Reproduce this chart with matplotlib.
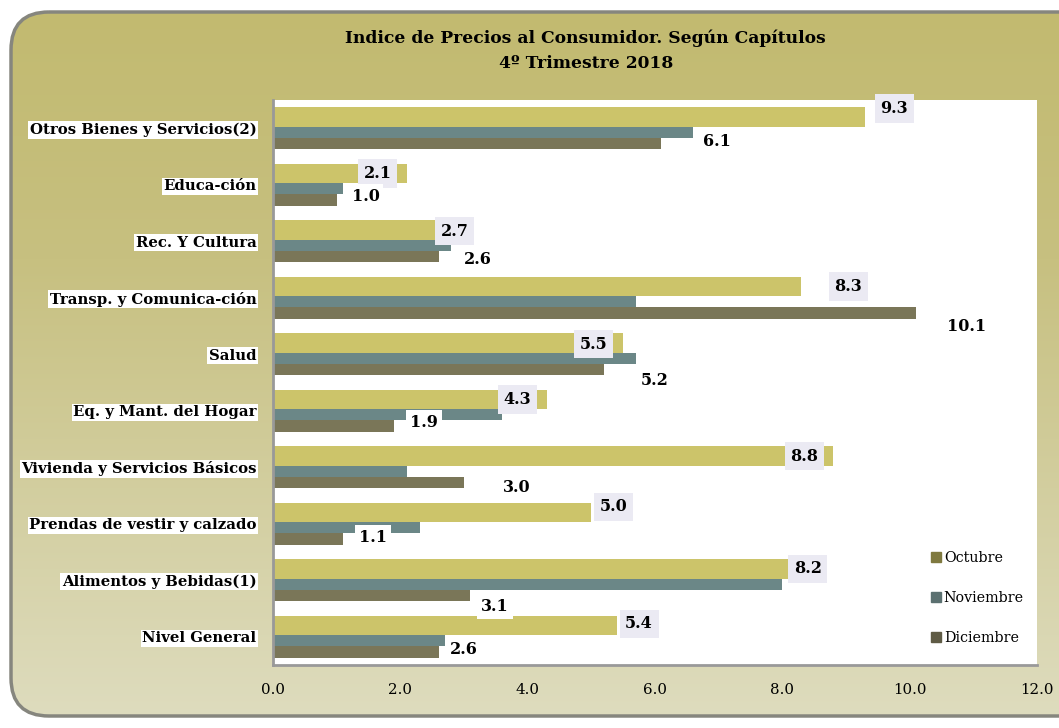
import numpy as np
import matplotlib.pyplot as plt
from matplotlib.patches import FancyBboxPatch
from matplotlib.colors import LinearSegmentedColormap

categorias = ["Otros Bienes y Servicios(2)", "Educa-ción", "Rec. Y Cultura",
              "Transp. y Comunica-ción", "Salud", "Eq. y Mant. del Hogar",
              "Vivienda y Servicios Básicos", "Prendas de vestir y calzado",
              "Alimentos y Bebidas(1)", "Nivel General"]
octubre = [9.3, 2.1, 2.7, 8.3, 5.5, 4.3, 8.8, 5.0, 8.2, 5.4]
noviembre = [6.6, 1.1, 2.8, 5.7, 5.7, 3.6, 2.1, 2.3, 8.0, 2.7]
diciembre = [6.1, 1.0, 2.6, 10.1, 5.2, 1.9, 3.0, 1.1, 3.1, 2.6]
series = ["Octubre", "Noviembre", "Diciembre"]
xticks = [0, 2, 4, 6, 8, 10, 12]

# desplazamiento de las etiquetas (a mano, como en el original)
oct_dx = [0.46, -0.46, 0.15, 0.74, -0.47, -0.46, -0.45, 0.35, 0.2, 0.35]
oct_dy = [-0.35, -0.2, -0.18, -0.2, -0.18, -0.2, -0.2, -0.3, -0.2, -0.23]
dic_dx = [0.87, 0.45, 0.62, 0.8, 0.8, 0.47, 0.82, 0.47, 0.39, 0.4]
dic_dy = [0.23, 0.21, 0.32, 0.5, 0.46, 0.2, 0.35, 0.25, 0.46, 0.23]

c_oct = "#ccc46a"
c_nov = "#6b8787"
c_dic = "#7a7658"
c_leg = ["#7f793f", "#5b7070", "#5f5b45"]

plt.rcParams['font.family'] = ['DejaVu Serif']

fig = plt.figure(figsize=(10.59, 7.28), dpi=100)
fig.patch.set_facecolor("white")

# fondo redondeado con degradado
bg = fig.add_axes([0, 0, 1, 1], zorder=0)
bg.set_xlim(0, 1059)
bg.set_ylim(728, 0)
bg.axis("off")
cmap = LinearSegmentedColormap.from_list(
    "fondo", [(0, "#c2ba70"), (0.35, "#c7c080"), (1, "#dedcbe")])
grad = np.linspace(0, 1, 256).reshape(-1, 1)
box = FancyBboxPatch((11, 12), 1100, 704, boxstyle="round,pad=0,rounding_size=38",
                     facecolor="none", edgecolor="#86867e", linewidth=2.5)
im = bg.imshow(grad, cmap=cmap, extent=[0, 1200, 718, 12], aspect="auto")
bg.add_patch(box)
im.set_clip_path(box)

ax = fig.add_axes([0.258, 0.0865, 0.721, 0.776], zorder=1)
ax.set_facecolor("white")
y = np.arange(len(categorias))
ax.barh(y - 0.2, octubre, height=0.34, color=c_oct, label=series[0])
ax.barh(y + 0.07, noviembre, height=0.19, color=c_nov, label=series[1])
ax.barh(y + 0.27, diciembre, height=0.2, color=c_dic, label=series[2])

for i in range(len(categorias)):
    ax.text(octubre[i] + oct_dx[i], i + oct_dy[i], f"{octubre[i]:.1f}",
            ha="center", va="center", fontsize=11.5, fontweight="bold",
            bbox=dict(boxstyle="square,pad=0.35", fc="#ebeaf3", ec="none"))
    ax.text(diciembre[i] + dic_dx[i], i + dic_dy[i], f"{diciembre[i]:.1f}",
            ha="center", va="center", fontsize=11.5, fontweight="bold",
            bbox=dict(boxstyle="square,pad=0.25", fc="white", ec="none"))

ax.set_xlim(0, 12)
ax.set_ylim(len(categorias) - 0.5, -0.5)
ax.set_xticks(xticks)
ax.set_xticklabels([f"{v:.1f}" for v in xticks], fontsize=10.8)
ax.set_yticks(y)
ax.set_yticklabels(categorias, fontsize=10.7, fontweight="bold")
for lab in ax.get_yticklabels():
    lab.set_bbox(dict(boxstyle="square,pad=0.1", fc="white", ec="none"))
ax.tick_params(axis="x", length=0, pad=13)
ax.tick_params(axis="y", length=0, pad=12)
for s in ["top", "right"]:
    ax.spines[s].set_visible(False)
for s in ["left", "bottom"]:
    ax.spines[s].set_color("#999999")
    ax.spines[s].set_linewidth(2)

leg = ax.legend(loc="lower right", bbox_to_anchor=(1.0, 0.013), frameon=False,
                fontsize=10.3, handlelength=0.7, handleheight=0.7,
                handletextpad=0.2, labelspacing=1.8)
for h, c in zip(leg.legend_handles, c_leg):
    h.set_color(c)

fig.text(0.553, 0.948, "Indice de Precios al Consumidor. Según Capítulos",
         ha="center", va="center", fontsize=12.3, fontweight="bold")
fig.text(0.553, 0.913, "4º Trimestre 2018",
         ha="center", va="center", fontsize=12.3, fontweight="bold")

fig.savefig("out.png", dpi=100)
